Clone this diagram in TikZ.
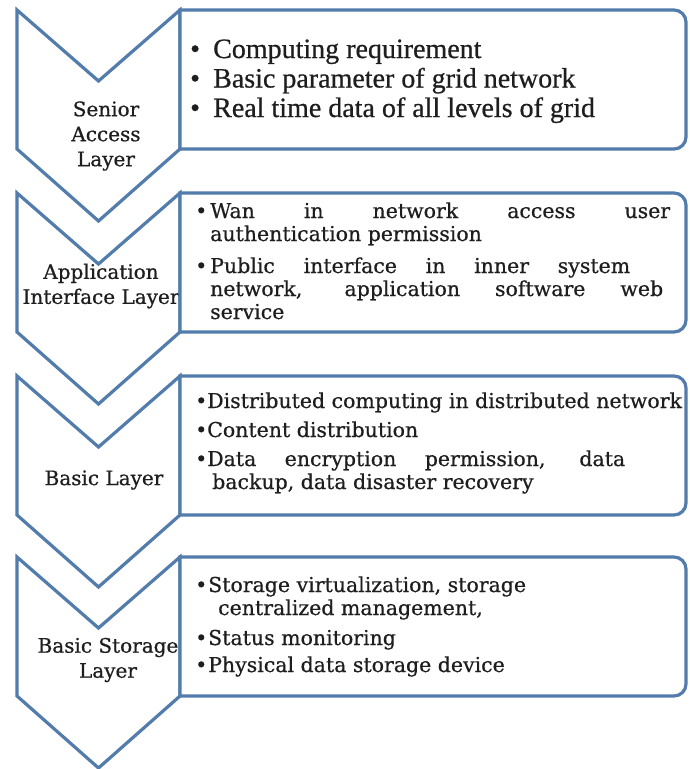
\documentclass[tikz,border=0pt]{standalone}
\usepackage{fontspec}
\setmainfont[FakeBold=0.6,AutoFakeBold=0.6]{DejaVu Serif}
\newfontfamily\timesfont[FakeBold=0.6,AutoFakeBold=0.6]{Liberation Serif}
\definecolor{edge}{RGB}{82,124,172}
\definecolor{ink}{RGB}{30,30,30}
\tikzset{
  outline/.style={draw=edge, line width=3.2pt, fill=white, line join=miter},
  layername/.style={font=\fontsize{20}{25}\selectfont, text=ink, align=center, inner sep=0pt},
  items/.style={anchor=base west, inner sep=0pt, text=ink, font=\fontsize{20.5}{23}\selectfont},
  chevron/.pic={
    \path[outline] (17,0) -- (98.5,71) -- (180,0) -- (180,139)
      -- (98.5,211) -- (17,139) -- cycle;
  },
  panel/.pic={
    \path[outline] (180,0) -- (674,0) arc[start angle=-90, end angle=0, radius=12]
      -- (686,127) arc[start angle=0, end angle=90, radius=12]
      -- (180,139) -- cycle;
  },
}
\newcommand\bul[1]{\makebox[#1][l]{•}}
\begin{document}
\begin{tikzpicture}[x=1pt, y=-1pt]
  \useasboundingbox (0,0) rectangle (689,769);
  \fill[white] (0,0) rectangle (689,769);

  % layer chevrons
  \pic at (0,10)  {chevron};
  \pic at (0,193) {chevron};
  \pic at (0,376) {chevron};
  \pic at (0,557) {chevron};

  % layer names
  \node[layername] (n1) at (106,136) {Senior\\Access\\Layer};
  \node[layername] (n2) at (101,286) {Application\\Interface Layer};
  \node[layername] (n3) at (104,480) {Basic Layer};
  \node[layername] (n4) at (108,660) {Basic Storage\\Layer};

  % description panels
  \pic at (0,10)  {panel};
  \pic at (0,193) {panel};
  \pic at (0,376) {panel};
  \pic at (0,557) {panel};

  \node[items, font=\timesfont\fontsize{28}{29.5}\selectfont] (p1) at (190,58) {\vtop{
    \hbox{\bul{23pt}Computing requirement}
    \hbox{\bul{23pt}Basic parameter of grid network}
    \hbox{\bul{23pt}Real time data of all levels of grid}}};

  \node[items] (p2) at (195,218) {\vtop{
    \hbox{\bul{15pt}\makebox[460pt][s]{Wan in network access user}}
    \hbox{\hspace*{15pt}authentication permission}
    \vskip 9pt
    \hbox{\bul{15pt}\makebox[420pt][s]{Public interface in inner system}}
    \hbox{\hspace*{15pt}\makebox[453pt][s]{network, application software web}}
    \hbox{\hspace*{15pt}service}}};

  \node[items] (p3) at (195,408) {\vtop{
    \hbox{\bul{12pt}Distributed computing in distributed network}
    \vskip 6pt
    \hbox{\bul{12pt}Content distribution}
    \vskip 6pt
    \hbox{\bul{12pt}\makebox[418pt][s]{Data encryption permission, data}}
    \hbox{\hspace*{17pt}backup, data disaster recovery}}};

  \node[items] (p4) at (195,592) {\vtop{
    \hbox{\bul{13pt}Storage virtualization, storage}
    \hbox{\hspace*{23pt}centralized management,}
    \vskip 7pt
    \hbox{\bul{13pt}Status monitoring}
    \vskip 4pt
    \hbox{\bul{13pt}Physical data storage device}}};
\end{tikzpicture}
\end{document}
